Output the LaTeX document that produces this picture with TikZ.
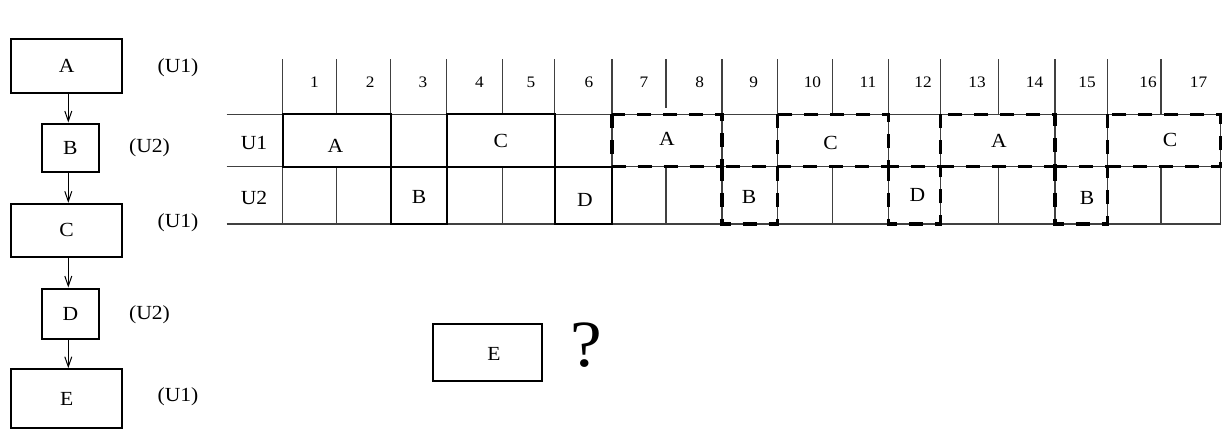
\documentclass[tikz,border=0pt]{standalone}
\usepackage{fontspec}
\setmainfont{Liberation Serif}[FakeStretch=1.08]
\usetikzlibrary{arrows.meta}
\begin{document}
\begin{tikzpicture}[x=1pt,y=-1pt,
  flowbox/.style={draw, line width=2pt, inner sep=0pt, font=\fontsize{20}{24}\selectfont},
  lbl/.style={font=\fontsize{20}{24}\selectfont, inner sep=0pt},
  num/.style={font=\fontsize{16}{19}\selectfont, inner sep=0pt},
  gridline/.style={line width=1.1pt, black!75},
  solidbox/.style={line width=2pt},
  dashbox/.style={line width=3.2pt, dash pattern=on 14pt off 12pt},
  flow/.style={-{Straight Barb[length=10pt,width=7pt]}, line width=1pt}]
\useasboundingbox (0,0) rectangle (1225,434);

% ---- left flow chart ----
\node[flowbox, minimum width=111pt, minimum height=54pt] (A) at (66.7,65.9) {A};
\node[flowbox, minimum width=57pt, minimum height=48pt] (B) at (70.3,147.5) {B};
\node[flowbox, minimum width=111pt, minimum height=53pt] (C) at (66.7,230.3) {C};
\node[flowbox, minimum width=57pt, minimum height=50pt] (D) at (70.3,313.5) {D};
\node[flowbox, minimum width=111pt, minimum height=59pt] (E) at (66.7,398.7) {E};
\coordinate (ax) at (68.3,0);
\draw[flow] (A.south -| ax) -- (B.north -| ax);
\draw[flow] (B.south -| ax) -- (C.north -| ax);
\draw[flow] (C.south -| ax) -- (D.north -| ax);
\draw[flow] (D.south -| ax) -- (E.north -| ax);
\node[lbl] (uA) at (178,67.7) {(U1)};
\node[lbl] (uB) at (149.5,148) {(U2)};
\node[lbl] (uC) at (178,222.7) {(U1)};
\node[lbl] (uD) at (149.5,315) {(U2)};
\node[lbl] (uE) at (178,396.7) {(U1)};

% ---- table grid ----
\draw[gridline] (226.7,114.3) -- (1220.5,114.3);
\draw[gridline] (226.7,166.7) -- (1220.5,166.7);
\draw[gridline] (226.7,224) -- (1220.5,224);
\foreach \x in {282.5,336.5,390.5,446.5,502.5,554.5,612,722,777.5,832.5,888.5,940.5,998.5,1055,1107.5,1161}
  \draw[gridline] (\x,59) -- (\x,114.3);
\draw[gridline] (666,59) -- (666,108);
\foreach \x in {282.5,390.5,446.5,554.5,612,722,777.5,888.5,940.5,1055,1107.5,1220.5}
  \draw[gridline] (\x,114.3) -- (\x,166.7);
\foreach \x in {282.5,336.5,390.5,446.5,502.5,554.5,612,666,722,777.5,832.5,888.5,940.5,998.5,1055,1107.5,1161,1220.5}
  \draw[gridline] (\x,166.7) -- (\x,224);

% solid boxes
\draw[solidbox] (282.5,114.3) rectangle (390.5,166.7);
\draw[solidbox] (446.5,114.3) rectangle (554.5,166.7);
\draw[solidbox] (390.5,166.7) rectangle (446.5,224);
\draw[solidbox] (554.5,166.7) rectangle (612,224);
% dashed boxes
\draw[dashbox] (612,114.3) rectangle (722,166.7);
\draw[dashbox] (777.5,114.3) rectangle (888.5,166.7);
\draw[dashbox] (940.5,114.3) rectangle (1055,166.7);
\draw[dashbox] (1107.5,114.3) rectangle (1220.5,166.7);
\draw[dashbox] (722,166.7) rectangle (777.5,224);
\draw[dashbox] (888.5,166.7) rectangle (940.5,224);
\draw[dashbox] (1055,166.7) rectangle (1107.5,224);

% header numbers
\foreach \n/\x in {1/314.5,2/370.3,3/423,4/479.5,5/531,6/589,7/644,8/699.6,9/753.6,10/812.4,11/868,12/923,13/977,14/1034.6,15/1087,16/1148,17/1198.6}
  \node[num] (h\n) at (\x,82.5) {\n};

% row labels
\node[lbl] (r1) at (254,143) {U1};
\node[lbl] (r2) at (254,197.5) {U2};

% cell texts
\node[lbl] (tA1) at (335.5,146) {A};
\node[lbl] (tC1) at (500.7,140.5) {C};
\node[lbl] (tB1) at (419,196.7) {B};
\node[lbl] (tD1) at (585,200) {D};
\node[lbl] (tA2) at (667,139) {A};
\node[lbl] (tC2) at (830.6,142.7) {C};
\node[lbl] (tA3) at (998.8,140.7) {A};
\node[lbl] (tC3) at (1170,140) {C};
\node[lbl] (tB2) at (749,196.7) {B};
\node[lbl] (tD2) at (917.4,195) {D};
\node[lbl] (tB3) at (1087,198.3) {B};

% ---- E box and question mark ----
\node[flowbox, minimum width=109pt, minimum height=57pt] (E2) at (487.8,352.7) {};
\node[lbl] (E2t) at (494,354) {E};
\node[inner sep=0pt, font=\fontsize{66}{70}\selectfont] (q) at (586.7,345) {?};
\end{tikzpicture}
\end{document}
